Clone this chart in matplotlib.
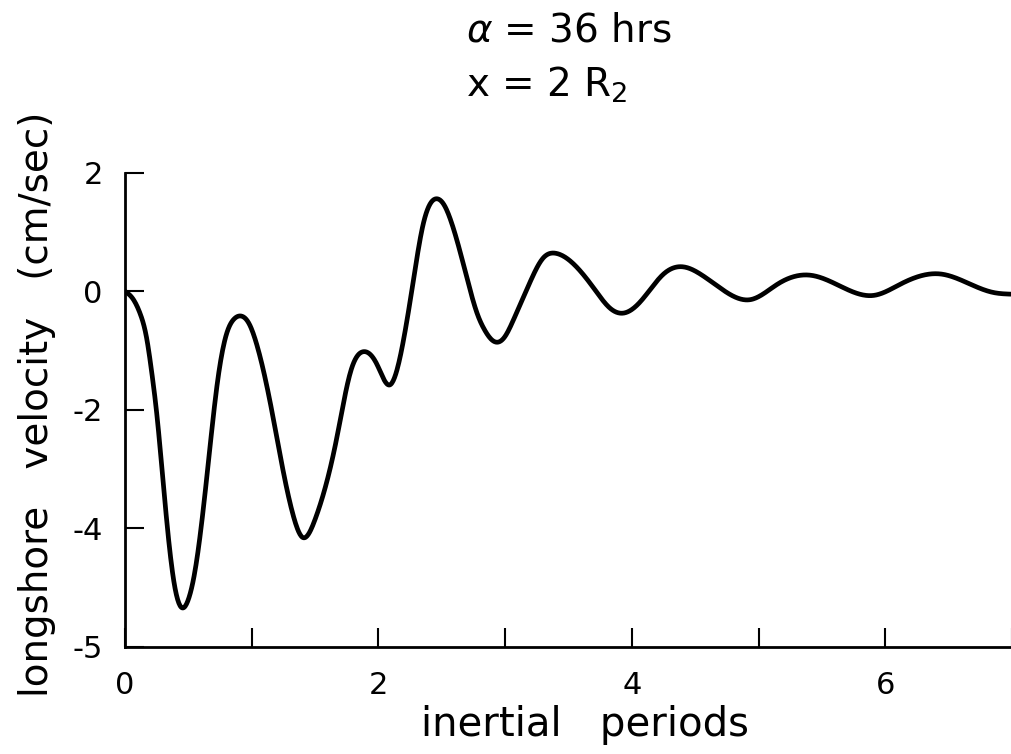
import numpy as np
import matplotlib.pyplot as plt

# curve (inertial periods, cm/sec)
t = [0.0, 0.06, 0.12, 0.17, 0.21, 0.25, 0.29, 0.34, 0.39, 0.45, 0.50, 0.55, 0.65, 0.73, 0.80, 0.86, 0.92,
     0.98, 1.04, 1.15, 1.25, 1.33, 1.40, 1.50, 1.67, 1.78, 1.88, 1.99, 2.09, 2.15, 2.20, 2.27,
     2.35, 2.41, 2.46, 2.52, 2.57, 2.67, 2.72, 2.78, 2.84, 2.89, 2.94, 3.00, 3.06, 3.20, 3.30, 3.40, 3.54,
     3.70, 3.83, 3.93, 4.07, 4.25, 4.41, 4.54, 4.70, 4.94, 5.15, 5.41, 5.65,
     5.91, 6.12, 6.44, 6.67, 6.85, 7.0]
v = [0.0, -0.12, -0.38, -0.78, -1.35, -2.05, -2.95, -4.10, -4.95, -5.34, -5.20, -4.75, -3.05, -1.53, -0.73, -0.47, -0.42,
     -0.55, -0.90, -1.92, -3.05, -3.80, -4.15, -3.85, -2.49, -1.36, -1.02, -1.24, -1.58, -1.30, -0.80, 0.10,
     1.10, 1.48, 1.56, 1.45, 1.20, 0.46, 0.05, -0.38, -0.66, -0.81, -0.86, -0.76, -0.51, 0.17, 0.56, 0.64, 0.46,
     0.05, -0.29, -0.37, -0.17, 0.29, 0.41, 0.29, 0.05, -0.14, 0.12, 0.27, 0.08,
     -0.07, 0.12, 0.29, 0.12, -0.02, -0.05]

xticks_major = [0, 2, 4, 6]
xticks_minor = [1, 3, 5, 7]
yticks = [-6, -4, -2, 0, 2]
ytick_labels = ['-5', '-4', '-2', '0', '2']


def spline(tt, vv, xs):
    # natural cubic spline through the read points
    tt = np.asarray(tt, float)
    vv = np.asarray(vv, float)
    n = len(tt)
    h = np.diff(tt)
    A = np.zeros((n, n))
    b = np.zeros(n)
    A[0, 0] = A[-1, -1] = 1
    for i in range(1, n - 1):
        A[i, i - 1] = h[i - 1]
        A[i, i] = 2 * (h[i - 1] + h[i])
        A[i, i + 1] = h[i]
        b[i] = 6 * ((vv[i + 1] - vv[i]) / h[i] - (vv[i] - vv[i - 1]) / h[i - 1])
    M = np.linalg.solve(A, b)
    i = np.clip(np.searchsorted(tt, xs) - 1, 0, n - 2)
    a = tt[i + 1] - xs
    c = xs - tt[i]
    hi = h[i]
    return (M[i] * a**3 / (6 * hi) + M[i + 1] * c**3 / (6 * hi)
            + (vv[i] / hi - M[i] * hi / 6) * a + (vv[i + 1] / hi - M[i + 1] * hi / 6) * c)


fig = plt.figure(figsize=(10.12, 7.54), dpi=100)
ax = fig.add_axes([0.1235, 0.142, 0.8765, 0.629])

ts = np.linspace(t[0], t[-1], 1400)
ax.plot(ts, spline(t, v, ts), color='black', linewidth=3.4, solid_capstyle='round')

ax.set_xlim(0, 7)
ax.set_ylim(-6, 2)
ax.spines['top'].set_visible(False)
ax.spines['right'].set_visible(False)
ax.spines['left'].set_linewidth(2)
ax.spines['bottom'].set_linewidth(2)

ax.set_xticks(xticks_major)
ax.set_xticks(xticks_minor, minor=True)
ax.set_yticks(yticks)
ax.set_yticklabels(ytick_labels)
ax.tick_params(axis='both', which='both', direction='in', length=14, width=1.5)
ax.tick_params(axis='x', labelsize=22, pad=17)
ax.tick_params(axis='y', labelsize=22, pad=16)

fig.text(0.578, 0.038, 'inertial   periods', ha='center', va='center', fontsize=29)
fig.text(0.037, 0.464, 'longshore   velocity   (cm/sec)', ha='center', va='center',
         rotation=90, fontsize=28)
fig.text(0.46, 0.96, r'$\alpha$ = 36 hrs', ha='left', va='center', fontsize=28)
fig.text(0.46, 0.888, r'x = 2 R$_2$', ha='left', va='center', fontsize=28)

fig.savefig('out.png', dpi=100)
